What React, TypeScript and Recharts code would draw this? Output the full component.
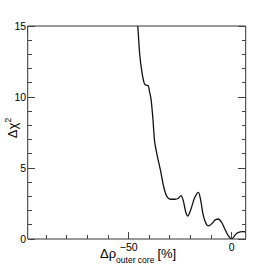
import React from "react";
import { LineChart, Line, XAxis, YAxis } from "recharts";

const rhoValues = [-45.8, -45.6, -44.7, -43.5, -42.4, -41.9, -40.5, -39.9, -39.1, -38.2, -37.5, -36.6, -34.6, -33.0, -31.4, -29.8, -27.5, -26.0, -24.6, -23.5, -22.3, -21.3, -20.0, -18.0, -16.1, -15.0, -14.0, -12.5, -11.3, -9.5, -8.0, -6.5, -5.0, -3.0, -1.5, 0, 1.5, 3.0, 5.3, 6.9];
const chi2Values = [15.3, 15.0, 13.1, 11.7, 10.96, 10.85, 10.8, 10.4, 9.8, 8.4, 7.0, 6.2, 4.86, 3.68, 2.98, 2.8, 2.8, 2.85, 3.05, 2.7, 1.9, 1.62, 2.0, 2.9, 3.29, 2.7, 1.81, 1.1, 0.92, 1.1, 1.35, 1.41, 1.2, 0.6, 0.2, 0, 0.25, 0.45, 0.52, 0.5];

const xTicks = [-90, -80, -70, -60, -50, -40, -30, -20, -10, 0];
const xMajor = [-50, 0];
const yTicks = [0, 1, 2, 3, 4, 5, 6, 7, 8, 9, 10, 11, 12, 13, 14, 15];
const yMajor = [0, 5, 10, 15];
const xDomain: [number, number] = [-99, 6.8];
const yDomain: [number, number] = [0, 15];

const data = rhoValues.map((x, i) => ({ x, y: chi2Values[i] }));

const FONT = "'Liberation Sans', Arial, Helvetica, sans-serif";

const fmt = (v: number) => (v < 0 ? "\u2212" + Math.abs(v) : String(v));

const makeTick = (side: string) => (props: any) => {
  const { x, y, payload } = props;
  const v = payload.value;
  const isX = side === "bottom" || side === "top";
  const major = isX ? xMajor.includes(v) : yMajor.includes(v);
  const len = major ? 7.5 : 4;
  let x2 = x;
  let y2 = y;
  if (side === "bottom") y2 = y - len;
  else if (side === "top") y2 = y + len;
  else if (side === "left") x2 = x + len;
  else x2 = x - len;
  let label = null;
  if (major && side === "bottom") {
    label = (
      <text x={x} y={y + 11.5} textAnchor="middle" fontSize={10.5} fontFamily={FONT} fill="#000">
        {fmt(v)}
      </text>
    );
  } else if (major && side === "left") {
    label = (
      <text x={x - 1.5} y={y + 3.8} textAnchor="end" fontSize={10.5} fontFamily={FONT} fill="#000">
        {fmt(v)}
      </text>
    );
  }
  return (
    <g>
      <line x1={x} y1={y} x2={x2} y2={y2} stroke="#444" strokeWidth={1} shapeRendering="crispEdges" />
      {label}
    </g>
  );
};

const XTitle = () => (
  <g>
    <text x={100} y={258} fontSize={13} fontFamily={FONT} fill="#000">
      Δρ
      <tspan fontSize={8.5} dy={5}>outer core</tspan>
      <tspan fontSize={13} dx={3} dy={-5}>[%]</tspan>
    </text>
  </g>
);

const YTitle = () => (
  <g>
    <text x={17} y={128} transform="rotate(-90, 17, 128)" textAnchor="middle" fontSize={13} fontFamily={FONT} fill="#000">
      Δχ
      <tspan fontSize={8.5} dy={-6}>2</tspan>
    </text>
  </g>
);

const axisLine = { stroke: "#333", strokeWidth: 1 };

export default function App() {
  return (
    <div style={{ position: "absolute", left: 0, top: 0, background: "#fff" }}>
      <LineChart width={273} height={266} data={data} margin={{ top: 25, right: 26.3, bottom: 26, left: 26.7 }}>
        <XAxis
          dataKey="x"
          type="number"
          domain={xDomain}
          ticks={xTicks}
          allowDataOverflow
          height={1}
          tickSize={0}
          tickMargin={0}
          tickLine={false}
          axisLine={axisLine}
          tick={makeTick("bottom")}
          interval={0}
          label={{ content: () => <XTitle /> }}
        />
        <XAxis
          xAxisId="top"
          orientation="top"
          type="number"
          domain={xDomain}
          ticks={xTicks}
          allowDataOverflow
          height={1}
          tickSize={0}
          tickMargin={0}
          tickLine={false}
          axisLine={axisLine}
          tick={makeTick("top")}
          interval={0}
        />
        <YAxis
          type="number"
          domain={yDomain}
          ticks={yTicks}
          allowDataOverflow
          width={1}
          tickSize={0}
          tickMargin={0}
          tickLine={false}
          axisLine={axisLine}
          tick={makeTick("left")}
          interval={0}
          label={{ content: () => <YTitle /> }}
        />
        <YAxis
          yAxisId="right"
          orientation="right"
          type="number"
          domain={yDomain}
          ticks={yTicks}
          allowDataOverflow
          width={1}
          tickSize={0}
          tickMargin={0}
          tickLine={false}
          axisLine={axisLine}
          tick={makeTick("right")}
          interval={0}
        />
        <Line
          dataKey="y"
          type="monotone"
          stroke="#111"
          strokeWidth={1.3}
          dot={false}
          isAnimationActive={false}
        />
      </LineChart>
    </div>
  );
}
